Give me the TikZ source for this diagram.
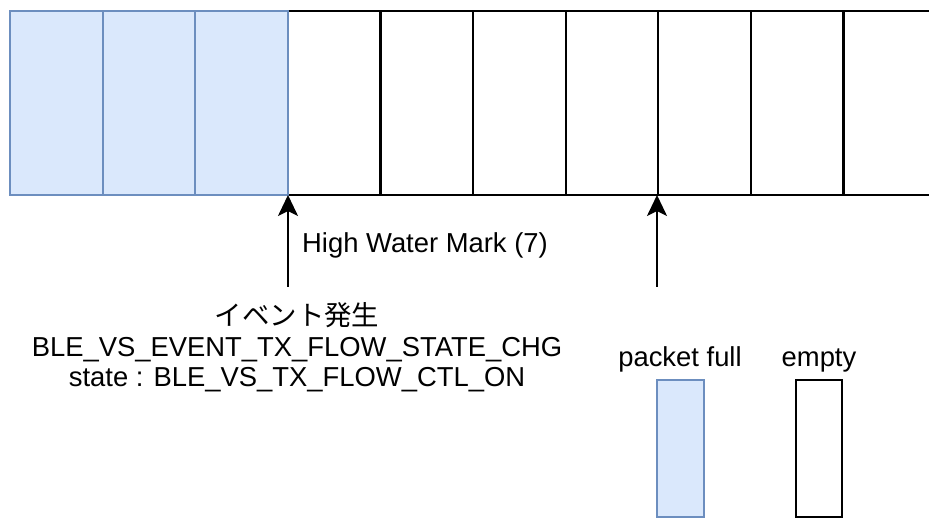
\documentclass[tikz,border=0pt]{standalone}
\usepackage{fontspec}
\setmainfont{Liberation Sans}
\newfontfamily\jp{Noto Sans CJK JP}
\usetikzlibrary{arrows.meta}
\definecolor{fullfill}{HTML}{DAE8FC}
\definecolor{fullline}{HTML}{6C8EBF}
\tikzset{
  slotempty/.style={draw=black, fill=white, line width=2.2pt},
  slotfull/.style={draw=fullline, fill=fullfill, line width=2.2pt},
  pointer/.style={line width=2.2pt, -{Stealth[length=21pt,width=20pt,inset=5pt]}},
  lbl/.style={inner sep=0pt, font=\fontsize{27.4}{32}\selectfont},
}
\begin{document}
\begin{tikzpicture}[x=1pt,y=-1pt]
\useasboundingbox (0,0) rectangle (929,518);
% empty slots
\foreach \i in {3,...,9} {
  \draw[slotempty] ({10+92.6*\i},11) rectangle ({10+92.6*(\i+1)},195);
}
% full slots
\foreach \i in {0,1,2} {
  \draw[slotfull] ({10+92.6*\i},11) rectangle ({10+92.6*(\i+1)},195);
}
\coordinate (hwmtip) at (288,195);
\coordinate (hwmtail) at (288,287);
\coordinate (ptrtip) at (657,195);
\coordinate (ptrtail) at (657,287);
\draw[pointer] (hwmtail) -- (hwmtip);
\draw[pointer] (ptrtail) -- (ptrtip);
\node[lbl, anchor=base west] (hwm) at (302,253) {High Water Mark (7)};
\node[lbl, anchor=base] (ev1) at (297,326) {\jp イベント発生};
\node[lbl, anchor=base] (ev2) at (297,357) {BLE\_VS\_EVENT\_TX\_FLOW\_STATE\_CHG};
\node[lbl, anchor=base] (ev3) at (297,387) {state : BLE\_VS\_TX\_FLOW\_CTL\_ON};
\node[lbl, anchor=base] (lfull) at (680,367) {packet full};
\node[lbl, anchor=base] (lempty) at (819,367) {empty};
\draw[slotfull] (657,380) rectangle (704,517);
\draw[slotempty] (796,380) rectangle (842,517);
\end{tikzpicture}
\end{document}
